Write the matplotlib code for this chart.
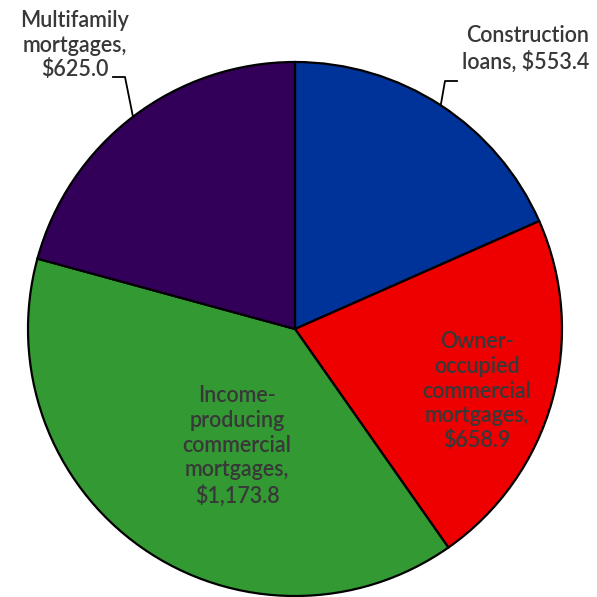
import numpy as np
import matplotlib
matplotlib.use("Agg")
import matplotlib.pyplot as plt

# commercial real estate loans by type, $ billions
labels = ["Construction\nloans, $553.4",
          "Owner-\noccupied\ncommercial\nmortgages,\n$658.9",
          "Income-\nproducing\ncommercial\nmortgages,\n$1,173.8",
          "Multifamily\nmortgages,\n$625.0"]
values = [553.4, 658.9, 1173.8, 625.0]
colors = ["#003399", "#ee0000", "#339933", "#330059"]

txt_color = "#383838"
plt.rcParams["font.family"] = ["Lato", "DejaVu Sans"]

fig = plt.figure(figsize=(5.97, 5.97), dpi=100)
ax = fig.add_axes([0, 0, 1, 1])

cx, cy, r = 295, 268, 267
wedges, _ = ax.pie(values, colors=colors, startangle=90, counterclock=False,
                   center=(cx, cy), radius=r, frame=True,
                   wedgeprops=dict(edgecolor="black", linewidth=1.6))
ax.set_xlim(0, 597)
ax.set_ylim(0, 597)
ax.set_aspect("equal")
ax.axis("off")


def edge_point(w):
    ang = np.deg2rad((w.theta1 + w.theta2) / 2)
    return cx + r * np.cos(ang), cy + r * np.sin(ang)


fs = 15.5
kw = dict(fontsize=fs, color=txt_color, linespacing=1.22, fontweight="semibold")

# outside labels with leader lines
ex, ey = edge_point(wedges[0])
ax.plot([ex, 445, 457], [ey, 516, 516], color="black", lw=1.3)
ax.text(589, 548, labels[0], ha="right", va="center", **kw)

ex, ey = edge_point(wedges[3])
ax.plot([ex, 125, 113], [ey, 520, 520], color="black", lw=1.3)
ax.text(75, 552, labels[3], ha="center", va="center", **kw)

# inside labels
ax.text(477, 206, labels[1], ha="center", va="center", **kw)
ax.text(237, 151, labels[2], ha="center", va="center", **kw)

fig.savefig("out.png", dpi=100)
